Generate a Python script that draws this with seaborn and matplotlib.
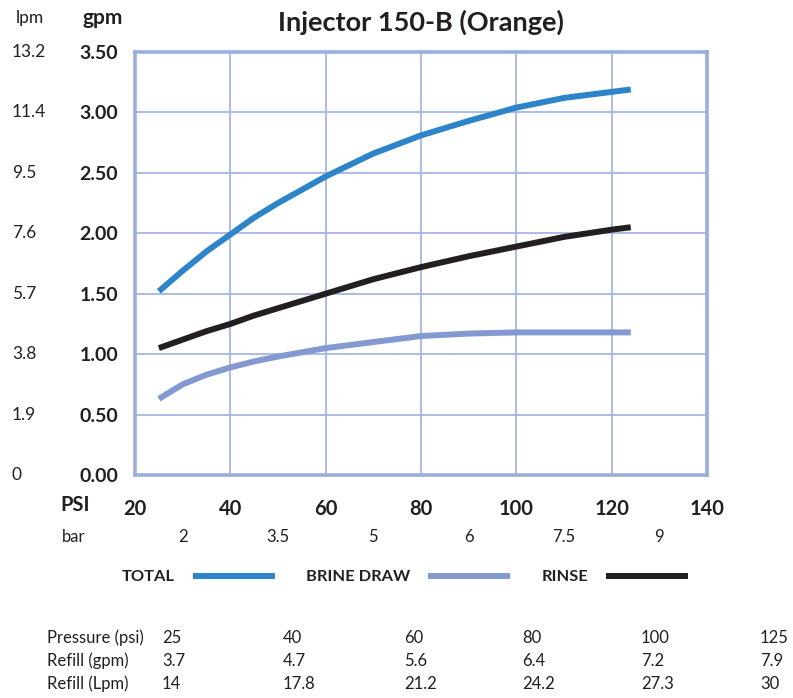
import matplotlib
matplotlib.use("Agg")
import matplotlib.pyplot as plt
import matplotlib.transforms as mtrans
import seaborn as sns
import pandas as pd

# curve values (gpm against inlet pressure in psi)
psi = [25, 30, 35, 40, 45, 50, 60, 70, 80, 90, 100, 110, 120, 124]
total = [1.52, 1.69, 1.85, 1.99, 2.13, 2.25, 2.47, 2.66, 2.81, 2.93, 3.04, 3.12, 3.17, 3.19]
brine_draw = [0.63, 0.75, 0.83, 0.89, 0.94, 0.98, 1.05, 1.10, 1.15, 1.17, 1.18, 1.18, 1.18, 1.18]
rinse = [1.05, 1.12, 1.19, 1.25, 1.32, 1.38, 1.50, 1.62, 1.72, 1.81, 1.89, 1.97, 2.03, 2.05]

series_names = ["TOTAL", "BRINE DRAW", "RINSE"]
series_colors = ["#2e84c8", "#8499d1", "#231f20"]

gpm_ticks = [0.0, 0.5, 1.0, 1.5, 2.0, 2.5, 3.0, 3.5]
lpm_labels = ["0", "1.9", "3.8", "5.7", "7.6", "9.5", "11.4", "13.2"]
psi_ticks = [20, 40, 60, 80, 100, 120, 140]
bar_psi = [30, 50, 70, 90, 110, 130]
bar_labels = ["2", "3.5", "5", "6", "7.5", "9"]

# refill table under the chart
table_psi = [25, 40, 60, 80, 100, 125]
refill_gpm = [3.7, 4.7, 5.6, 6.4, 7.2, 7.9]
refill_lpm = [14, 17.8, 21.2, 24.2, 27.3, 30]

sns.set_theme(style="white")
plt.rcParams["font.family"] = ["Lato", "DejaVu Sans"]

W, H = 793, 698
fig = plt.figure(figsize=(W / 100, H / 100), dpi=100)


def px(x, y):
    # pixel position in the reference -> figure fraction
    return x / W, 1 - y / H


ax = fig.add_axes([135 / W, 1 - 475 / H, (707 - 135) / W, (475 - 52) / H])

df = pd.concat([
    pd.DataFrame({"psi": psi, "gpm": total, "series": "TOTAL"}),
    pd.DataFrame({"psi": psi, "gpm": brine_draw, "series": "BRINE DRAW"}),
    pd.DataFrame({"psi": psi, "gpm": rinse, "series": "RINSE"}),
])
sns.lineplot(data=df, x="psi", y="gpm", hue="series", hue_order=series_names,
             palette=series_colors, linewidth=4.3, legend=False, ax=ax,
             solid_capstyle="butt", solid_joinstyle="round")

ax.set_xlim(20, 140)
ax.set_ylim(0, 3.5)
ax.set_xticks(psi_ticks)
ax.set_yticks(gpm_ticks)
ax.set_xticklabels([str(v) for v in psi_ticks], fontsize=14.5, fontweight="bold", color="#231f20")
ax.set_yticklabels(["%.2f" % v for v in gpm_ticks], fontsize=14, fontweight="bold", color="#231f20")
ax.tick_params(axis="x", length=0, pad=17)
ax.tick_params(axis="y", length=0, pad=12)
ax.set_xlabel("")
ax.set_ylabel("")
ax.grid(True, color="#a6b6e4", linewidth=1.3)
for sp in ax.spines.values():
    sp.set_visible(True)
    sp.set_color("#9aaedd")
    sp.set_linewidth(2.6)

# title and unit headers
fig.text(*px(421, 22), "Injector 150-B (Orange)", ha="center", va="center",
         fontsize=19.5, fontweight="bold", color="#231f20")
fig.text(*px(30, 18), "lpm", ha="center", va="center", fontsize=12.5, color="#231f20")
fig.text(*px(103, 18), "gpm", ha="center", va="center", fontsize=15, fontweight="bold", color="#231f20")

# secondary lpm scale on the left
lpm_tr = mtrans.blended_transform_factory(fig.transFigure, ax.transData)
for v, lab in zip(gpm_ticks, lpm_labels):
    fig.text(12 / W, v, lab, transform=lpm_tr, ha="left", va="center",
             fontsize=12.5, color="#231f20")

# PSI / bar rows
fig.text(*px(75, 505), "PSI", ha="center", va="center", fontsize=14.5, fontweight="bold", color="#231f20")
fig.text(*px(74, 537), "bar", ha="center", va="center", fontsize=12, color="#231f20")
bar_tr = mtrans.blended_transform_factory(ax.transData, fig.transFigure)
for p, lab in zip(bar_psi, bar_labels):
    fig.text(p, 1 - 537 / H, lab, transform=bar_tr, ha="center", va="center",
             fontsize=12, color="#231f20")

# legend below the chart, text before the line
handles = ax.get_lines()[:3]
leg = fig.legend(handles, series_names, loc="center", bbox_to_anchor=px(405, 577),
                 ncol=3, frameon=False, markerfirst=False, handlelength=5.0,
                 handletextpad=1.1, columnspacing=1.9,
                 prop={"weight": "bold", "size": 11.8})
for t in leg.get_texts():
    t.set_color("#231f20")

# refill table
col_x = [162, 283, 404, 522, 641, 760]
rows = [
    ("Pressure (psi)", table_psi, 638),
    ("Refill (gpm)", refill_gpm, 661),
    ("Refill (Lpm)", refill_lpm, 684),
]
for label, vals, y in rows:
    fig.text(*px(47, y), label, ha="left", va="center", fontsize=12, color="#231f20")
    for x, v in zip(col_x, vals):
        fig.text(*px(x, y), "%g" % v, ha="left", va="center", fontsize=12, color="#231f20")

fig.savefig("out.png", dpi=100)
